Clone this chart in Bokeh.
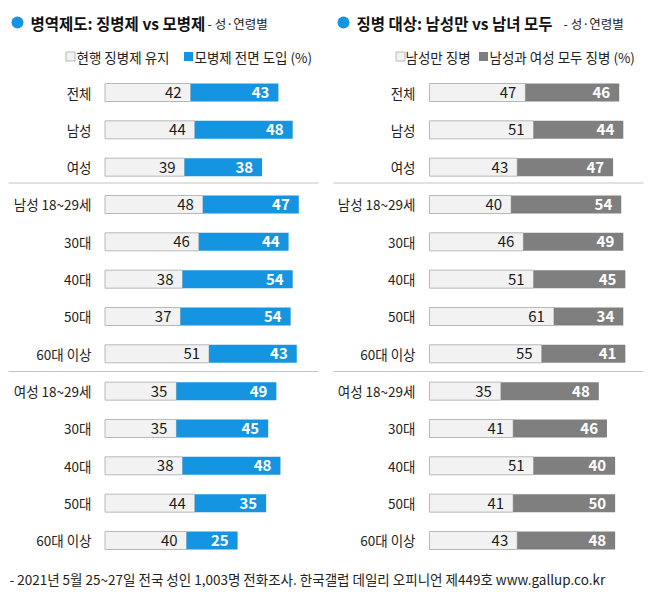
from bokeh.plotting import figure
from bokeh.models import Range1d, ColumnDataSource
from bokeh.core.properties import value
from bokeh.embed import file_html
from bokeh.resources import INLINE

# ---- data ----
groups = ["전체", "남성", "여성", "남성 18~29세", "30대", "40대", "50대", "60대 이상",
          "여성 18~29세", "30대", "40대", "50대", "60대 이상"]
keep_draft = [42, 44, 39, 48, 46, 38, 37, 51, 35, 35, 38, 44, 40]
volunteer = [43, 48, 38, 47, 44, 54, 54, 43, 49, 45, 48, 35, 25]
men_only = [47, 51, 43, 40, 46, 51, 61, 55, 35, 41, 51, 41, 43]
both_sexes = [46, 44, 47, 54, 49, 45, 34, 41, 48, 46, 40, 50, 48]

title_left = "병역제도: 징병제 vs 모병제"
title_right = "징병 대상: 남성만 vs 남녀 모두"
subtitle = "- 성·연령별"
legend_left = ["현행 징병제 유지", "모병제 전면 도입 (%)"]
legend_right = ["남성만 징병", "남성과 여성 모두 징병 (%)"]
footer = "- 2021년 5월 25~27일 전국 성인 1,003명 전화조사. 한국갤럽 데일리 오피니언 제449호 www.gallup.co.kr"

BLUE = "#1594e2"
DARK = "#7f7f7f"
LIGHT = "#f2f2f2"
EDGE = "#b8b8b8"
FONT = value("Noto Sans CJK KR")

W, H = 661, 615
SCALE = 2.04          # px per percentage point
X0L, X0R = 104.5, 429.0
ROW0, ROWH = 92.0, 37.33

def px(xp):  # pixel -> left-range data
    return (xp - X0L) / SCALE

def py(yp):
    return (yp - ROW0) / ROWH

p = figure(width=W, height=H, output_backend="svg", toolbar_location=None,
           x_range=Range1d(px(0), px(W)), y_range=Range1d(py(H), py(0)),
           min_border=0)
p.extra_x_ranges = {"right": Range1d(-X0R / SCALE, (W - X0R) / SCALE)}
p.xaxis.visible = False
p.yaxis.visible = False
p.grid.visible = False
p.outline_line_color = None
p.background_fill_color = "white"

idx = list(range(len(groups)))
src = ColumnDataSource(dict(
    y=idx, g=groups,
    a=keep_draft, b=volunteer, ab=[a + b for a, b in zip(keep_draft, volunteer)],
    c=men_only, d=both_sexes, cd=[c + d for c, d in zip(men_only, both_sexes)],
    sa=[str(v) for v in keep_draft], sb=[str(v) for v in volunteer],
    sc=[str(v) for v in men_only], sd=[str(v) for v in both_sexes],
))

BH = 18 / ROWH
# left panel bars
p.hbar(y="y", left=0, right="a", height=BH, source=src, fill_color=LIGHT, line_color=EDGE, line_width=1)
p.hbar(y="y", left="a", right="ab", height=BH, source=src, fill_color=BLUE, line_color=None)
p.text(x="a", y="y", text="sa", source=src, x_offset=-9, text_align="right", text_baseline="middle",
       text_font=FONT, text_font_size="15px", text_color="#1a1a1a")
p.text(x="ab", y="y", text="sb", source=src, x_offset=-9, text_align="right", text_baseline="middle",
       text_font=FONT, text_font_size="15px", text_font_style="bold", text_color="white")
# right panel bars
p.hbar(y="y", left=0, right="c", height=BH, source=src, fill_color=LIGHT, line_color=EDGE, line_width=1,
       x_range_name="right")
p.hbar(y="y", left="c", right="cd", height=BH, source=src, fill_color=DARK, line_color=None,
       x_range_name="right")
p.text(x="c", y="y", text="sc", source=src, x_offset=-9, text_align="right", text_baseline="middle",
       text_font=FONT, text_font_size="15px", text_color="#1a1a1a", x_range_name="right")
p.text(x="cd", y="y", text="sd", source=src, x_offset=-9, text_align="right", text_baseline="middle",
       text_font=FONT, text_font_size="15px", text_font_style="bold", text_color="white",
       x_range_name="right")

# row labels
p.text(x=[px(91)] * len(groups), y=idx, text=groups, text_align="right", text_baseline="middle",
       text_font=FONT, text_font_size="13.5px", text_color="#222222")
p.text(x=[px(415)] * len(groups), y=idx, text=groups, text_align="right", text_baseline="middle",
       text_font=FONT, text_font_size="13.5px", text_color="#222222")

# separators
for ys in (py(182.5), py(371)):
    p.segment(x0=[px(8), px(333)], y0=[ys, ys], x1=[px(318), px(643)], y1=[ys, ys],
              line_color="#c4c4c4", line_width=1)

# titles
p.scatter(x=[px(17), px(343)], y=[py(22), py(22)], size=12, marker="circle",
          fill_color=BLUE, line_color=None)
p.text(x=[px(30), px(356)], y=[py(22), py(22)], text=[title_left, title_right],
       text_align="left", text_baseline="middle", text_font=FONT, text_font_size="15.5px",
       text_font_style="bold", text_color="#111111")
p.text(x=[px(207), px(563)], y=[py(23), py(23)], text=[subtitle, subtitle],
       text_align="left", text_baseline="middle", text_font=FONT, text_font_size="12.5px",
       text_color="#222222")

# legends
p.scatter(x=[px(70), px(400)], y=[py(56), py(56)], size=9, marker="square",
          fill_color=LIGHT, line_color=EDGE)
p.scatter(x=[px(188), px(483)], y=[py(56), py(56)], size=9, marker="square",
          fill_color=[BLUE, DARK], line_color=None)
p.text(x=[px(76), px(194), px(405), px(489)], y=[py(56)] * 4,
       text=[legend_left[0], legend_left[1], legend_right[0], legend_right[1]],
       text_align="left", text_baseline="middle", text_font=FONT, text_font_size="13.5px",
       text_color="#222222")

# footer
p.text(x=[px(9)], y=[py(578)], text=[footer], text_align="left", text_baseline="middle",
       text_font=FONT, text_font_size="13.5px", text_color="#222222")

open("out.html", "w").write(file_html(p, INLINE))
